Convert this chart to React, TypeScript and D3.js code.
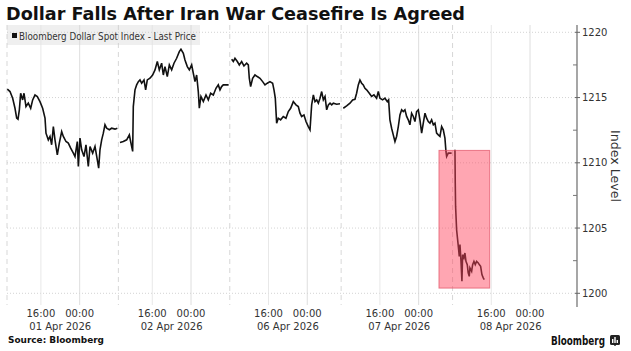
import React from "react";
import * as d3 from "d3";

// ---------- data ----------
const title = "Dollar Falls After Iran War Ceasefire Is Agreed";
const seriesName = "Bloomberg Dollar Spot Index - Last Price";
const yAxisTitle = "Index Level";
const sourceText = "Source: Bloomberg";

// trading sessions (local chart time), each 23 hours long
const sessionOpens = [
  "2026-04-01T09:00",
  "2026-04-02T09:00",
  "2026-04-06T08:00",
  "2026-04-07T08:00",
  "2026-04-08T08:00",
];
const sessionHours = 23;

// [hours since session open, index level]
const session0: [number, number][] = [
  [0.07, 1215.64], [0.62, 1215.46], [1.17, 1214.95], [1.65, 1214.18], [2.0, 1213.42],
  [2.27, 1213.34], [2.55, 1214.06], [2.82, 1215.33], [3.23, 1214.82], [3.51, 1215.33],
  [3.92, 1214.31], [4.4, 1214.57], [4.89, 1214.18], [5.3, 1214.82], [5.78, 1215.2],
  [6.26, 1215.08], [6.81, 1214.69], [7.36, 1214.18], [7.85, 1213.42], [8.05, 1212.27],
  [8.53, 1211.76], [8.88, 1212.02], [9.22, 1211.38], [9.57, 1212.78], [9.91, 1211.76],
  [10.39, 1210.61], [10.8, 1211.51], [11.29, 1212.4], [11.63, 1212.02], [12.18, 1211.63],
  [12.66, 1211.51], [13.15, 1211.12], [13.7, 1210.74], [14.04, 1210.48], [14.52, 1211.63],
  [14.73, 1209.72], [15.07, 1211.89], [15.42, 1211.0], [15.9, 1210.48], [16.31, 1211.38],
  [16.79, 1209.72], [17.14, 1211.25], [17.69, 1210.74], [18.17, 1211.25], [18.65, 1210.23],
  [18.93, 1209.59], [19.2, 1211.0], [19.55, 1211.76], [19.89, 1212.27], [20.23, 1212.91],
  [20.58, 1212.65], [21.13, 1212.53], [21.61, 1212.65], [22.3, 1212.58], [22.78, 1212.65],
];
const session1: [number, number][] = [
  [0.33, 1211.56], [1.02, 1211.63], [1.71, 1211.76], [2.26, 1212.14], [2.53, 1211.63],
  [2.95, 1210.87], [3.08, 1214.31], [3.43, 1215.59], [3.77, 1215.97], [4.12, 1216.22],
  [4.46, 1216.35], [4.8, 1216.1], [5.29, 1216.35], [5.63, 1215.59], [5.97, 1216.35],
  [6.52, 1216.48], [7.07, 1216.73], [7.56, 1217.12], [8.04, 1217.76], [8.45, 1217.12],
  [8.93, 1217.63], [9.28, 1216.73], [9.62, 1217.37], [10.1, 1216.61], [10.52, 1217.5],
  [11.0, 1217.12], [11.48, 1217.63], [12.03, 1218.01], [12.58, 1218.52], [12.92, 1218.7],
  [13.41, 1218.39], [13.75, 1217.88], [14.23, 1217.37], [14.65, 1217.12], [15.13, 1217.5],
  [15.47, 1216.86], [15.82, 1216.22], [16.16, 1216.73], [16.5, 1215.46], [16.71, 1214.18],
  [17.05, 1215.08], [17.54, 1214.69], [18.09, 1215.2], [18.57, 1214.82], [19.05, 1215.33],
  [19.6, 1215.2], [20.15, 1215.71], [20.63, 1215.97], [20.98, 1215.59], [21.32, 1215.84],
  [21.66, 1215.97], [22.21, 1215.97], [22.76, 1215.97],
];
const session2: [number, number][] = [
  [0.39, 1217.93], [0.73, 1217.76], [1.07, 1218.01], [1.56, 1217.76], [1.97, 1217.5],
  [2.45, 1217.76], [2.93, 1217.42], [3.48, 1217.63], [3.83, 1217.5], [4.03, 1216.48],
  [4.31, 1215.84], [4.72, 1216.48], [5.2, 1216.73], [5.68, 1216.61], [6.24, 1216.48],
  [6.79, 1216.22], [7.27, 1215.97], [7.75, 1216.1], [8.3, 1216.22], [8.85, 1216.1],
  [9.13, 1215.59], [9.4, 1214.95], [9.68, 1213.04], [10.02, 1213.42], [10.5, 1213.29],
  [11.05, 1213.55], [11.6, 1213.42], [12.09, 1213.93], [12.57, 1214.18], [13.12, 1214.69],
  [13.67, 1214.44], [14.15, 1214.31], [14.5, 1213.8], [14.84, 1213.55], [15.32, 1213.67],
  [15.74, 1213.16], [16.22, 1212.78], [16.57, 1212.53], [16.91, 1214.44], [17.26, 1215.2],
  [17.6, 1214.69], [17.95, 1214.82], [18.29, 1214.57], [18.63, 1214.95], [18.98, 1215.46],
  [19.32, 1214.82], [19.67, 1215.08], [20.01, 1214.06], [20.36, 1214.44], [20.7, 1214.57],
  [21.05, 1214.44], [21.39, 1214.57], [22.08, 1214.49], [22.76, 1214.52],
];
const session3: [number, number][] = [
  [0.44, 1214.18], [1.13, 1214.36], [1.82, 1214.57], [2.37, 1214.82], [2.85, 1214.87],
  [3.19, 1215.33], [3.54, 1215.97], [3.88, 1216.35], [4.23, 1216.1], [4.57, 1215.97],
  [4.91, 1215.71], [5.26, 1215.59], [5.81, 1215.33], [6.29, 1215.08], [6.77, 1215.2],
  [7.32, 1214.95], [7.67, 1215.46], [8.01, 1214.95], [8.56, 1214.82], [9.04, 1214.95],
  [9.53, 1214.69], [9.8, 1214.82], [10.07, 1213.29], [10.42, 1212.65], [10.76, 1212.14],
  [11.11, 1211.63], [11.45, 1212.02], [11.8, 1212.78], [12.14, 1213.67], [12.49, 1214.06],
  [12.83, 1213.93], [13.17, 1214.06], [13.52, 1213.55], [13.86, 1213.29], [14.2, 1212.91],
  [14.55, 1213.8], [14.9, 1213.55], [15.24, 1213.16], [15.58, 1213.93], [15.93, 1214.06],
  [16.27, 1213.29], [16.62, 1212.27], [16.96, 1213.04], [17.31, 1213.8], [17.65, 1213.42],
  [17.99, 1213.16], [18.34, 1213.04], [18.68, 1213.29], [19.03, 1212.91], [19.37, 1213.04],
  [19.71, 1212.27], [20.06, 1212.14], [20.4, 1212.02], [20.75, 1212.78], [21.09, 1212.53],
  [21.43, 1211.89], [21.64, 1210.87], [21.78, 1210.48], [22.12, 1210.74], [22.46, 1210.74],
  [22.81, 1210.74],
];
const session4: [number, number][] = [
  [0.5, 1211.0], [0.56, 1208.45], [0.63, 1206.66], [0.84, 1204.87], [1.05, 1204.11],
  [1.26, 1203.34], [1.39, 1202.83], [1.53, 1203.73], [1.73, 1202.58], [1.94, 1200.92],
  [2.08, 1202.96], [2.35, 1202.71], [2.56, 1203.09], [2.77, 1202.45], [3.04, 1202.2],
  [3.24, 1201.56], [3.45, 1201.3], [3.59, 1201.94], [3.94, 1201.68], [4.15, 1202.2],
  [4.42, 1202.45], [4.69, 1202.2], [4.97, 1202.45], [5.31, 1202.33], [5.52, 1202.2],
  [5.8, 1202.07], [6.07, 1201.43], [6.34, 1201.18], [6.55, 1201.05],
];
const sessions = [session0, session1, session2, session3, session4];

// highlighted window after the ceasefire
const highlightFrom = "2026-04-08T04:12";
const highlightTo = "2026-04-08T15:40";
const highlightLevels = [1200.4, 1210.95];

const yMajorTicks = [1200, 1205, 1210, 1215, 1220];
const yMinorTicks = [1202.5, 1207.5, 1212.5, 1217.5];
const tickClock = ["16:00", "00:00"];

// ---------- layout ----------
const W = 631;
const H = 351;
const plotLeft = 7;
const plotRight = 577;
const plotTop = 25;
const plotBottom = 305;
const FONT = "'DejaVu Sans', Verdana, sans-serif";

const parse = d3.timeParse("%Y-%m-%dT%H:%M");
const opens = sessionOpens.map((s) => parse(s) as Date);
const hourMs = 3600000;

// date -> continuous trading-hour index (sessions laid back to back)
function tradingHours(d: Date): number {
  for (let k = opens.length - 1; k >= 0; k--) {
    const off = (d.getTime() - opens[k].getTime()) / hourMs;
    if (off >= 0) return k * sessionHours + Math.min(off, sessionHours);
  }
  return 0;
}

const x = d3.scaleLinear().domain([0, 117.7]).range([plotLeft, plotRight]);
const y = d3.scaleLinear().domain([1200, 1220]).range([293.3, 32.3]);

const line = d3
  .line<[number, number]>()
  .x((d) => x(d[0]))
  .y((d) => y(d[1]));

const fmtDate = d3.timeFormat("%d %b %Y");

export default function App() {
  const ticks = opens.map((open, k) => {
    const t16 = new Date(open);
    t16.setHours(16, 0, 0, 0);
    const t00 = d3.timeDay.offset(d3.timeDay.floor(open), 1);
    return {
      k,
      x16: x(tradingHours(t16)),
      x00: x(tradingHours(t00)),
      xOpen: x(k * sessionHours),
      label: fmtDate(t16),
    };
  });

  const hx0 = x(tradingHours(parse(highlightFrom) as Date));
  const hx1 = x(tradingHours(parse(highlightTo) as Date));
  const hy0 = y(highlightLevels[1]);
  const hy1 = y(highlightLevels[0]);

  return (
    <svg
      width={W}
      height={H}
      style={{ position: "absolute", left: 0, top: 0, background: "#fff" }}
      fontFamily={FONT}
    >
      <rect x={0} y={0} width={W} height={H} fill="#fff" />
      <text x={6} y={20} fontSize={18} fontWeight="bold" fill="#111" textLength={459} lengthAdjust="spacingAndGlyphs">
        {title}
      </text>

      {/* legend box */}
      <rect x={7} y={25} width={193} height={20} fill="#efefef" />

      {/* horizontal gridlines */}
      {yMajorTicks.map((v) => (
        <line key={"h" + v} x1={plotLeft} x2={plotRight} y1={y(v)} y2={y(v)} stroke="#c8c8c8" strokeWidth={0.8} strokeDasharray="1,2" />
      ))}

      {/* vertical gridlines */}
      {ticks.map((t) => (
        <g key={"v" + t.k}>
          <line x1={t.xOpen} x2={t.xOpen} y1={plotTop} y2={plotBottom} stroke="#cdcdcd" strokeWidth={0.8} strokeDasharray="5,4" />
          <line x1={t.x16} x2={t.x16} y1={plotTop} y2={plotBottom} stroke="#e2e2e2" strokeWidth={0.8} />
          <line x1={t.x00} x2={t.x00} y1={plotTop} y2={plotBottom} stroke="#d6d6d6" strokeWidth={0.8} />
        </g>
      ))}

      {/* legend */}
      <rect x={12} y={33} width={5} height={5} fill="#111" />
      <text x={19} y={39.5} fontSize={10} fill="#333" textLength={177} lengthAdjust="spacingAndGlyphs">
        {seriesName}
      </text>

      {/* series */}
      {sessions.map((s, k) => (
        <path
          key={"s" + k}
          d={line(s.map((p) => [k * sessionHours + p[0], p[1]] as [number, number])) || ""}
          fill="none"
          stroke="#111"
          strokeWidth={1.6}
          strokeLinejoin="miter"
        />
      ))}

      {/* highlight */}
      <rect
        x={hx0}
        y={hy0}
        width={hx1 - hx0}
        height={hy1 - hy0}
        fill="rgb(255,70,95)"
        fillOpacity={0.48}
        stroke="rgb(225,80,100)"
        strokeOpacity={0.7}
        strokeWidth={1}
      />

      {/* y axis */}
      <line x1={plotRight} x2={plotRight} y1={plotTop} y2={307} stroke="#777" strokeWidth={1.3} />
      {yMajorTicks.map((v) => (
        <g key={"yt" + v}>
          <line x1={plotRight - 2} x2={plotRight + 3} y1={y(v)} y2={y(v)} stroke="#666" />
          <text x={582} y={y(v) + 3.6} fontSize={10} fill="#333">
            {v}
          </text>
        </g>
      ))}
      {yMinorTicks.map((v) => (
        <line key={"ym" + v} x1={plotRight - 4} x2={plotRight} y1={y(v)} y2={y(v)} stroke="#777" />
      ))}
      <text
        transform={`translate(611,166) rotate(90)`}
        textAnchor="middle"
        fontSize={12}
        fill="#333"
        textLength={72}
        lengthAdjust="spacingAndGlyphs"
      >
        {yAxisTitle}
      </text>

      {/* x axis labels */}
      {ticks.map((t) => (
        <g key={"xl" + t.k}>
          <text x={t.x16} y={317} fontSize={10} fill="#333" textAnchor="middle">
            {tickClock[0]}
          </text>
          <text x={t.x00} y={317} fontSize={10} fill="#333" textAnchor="middle">
            {tickClock[1]}
          </text>
          <text x={(t.x16 + t.x00) / 2} y={330} fontSize={10} fill="#333" textAnchor="middle">
            {t.label}
          </text>
        </g>
      ))}

      {/* footer */}
      <text x={8} y={343} fontSize={9.5} fontWeight="bold" fill="#111" textLength={96} lengthAdjust="spacingAndGlyphs">
        {sourceText}
      </text>
      <text x={551} y={345} fontSize={12.5} fontWeight="bold" fill="#111" textLength={54} lengthAdjust="spacingAndGlyphs">
        Bloomberg
      </text>
      <g>
        <rect x={610} y={335} width={10} height={10} rx={1.5} fill="#222" />
        <rect x={612} y={339} width={1.4} height={4} fill="#fff" />
        <rect x={614.3} y={337} width={1.4} height={6} fill="#fff" />
        <rect x={616.6} y={340} width={1.4} height={3} fill="#fff" />
        <rect x={614.3} y={343} width={1.4} height={3} fill="#222" />
      </g>
    </svg>
  );
}
